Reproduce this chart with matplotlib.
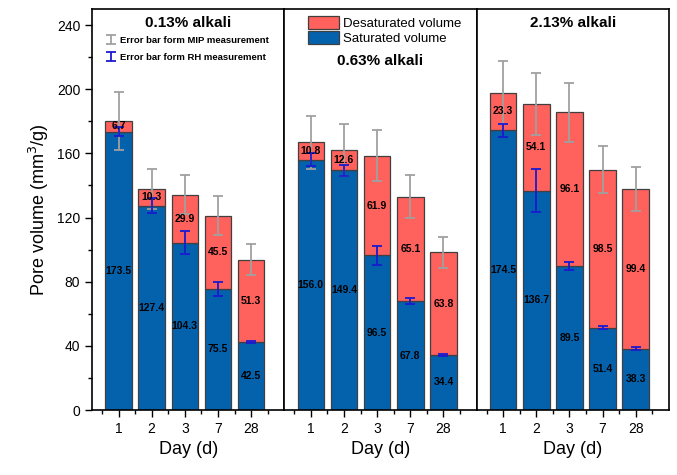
import matplotlib.pyplot as plt
import numpy as np

plt.rcParams['font.family'] = ['Liberation Sans', 'DejaVu Sans']

days = ['1', '2', '3', '7', '28']
titles = ['0.13% alkali', '0.63% alkali', '2.13% alkali']

# saturated / desaturated pore volume (mm3/g) per alkali content
sat = [[173.5, 127.4, 104.3, 75.5, 42.5],
       [156.0, 149.4, 96.5, 67.8, 34.4],
       [174.5, 136.7, 89.5, 51.4, 38.3]]
desat = [[6.7, 10.3, 29.9, 45.5, 51.3],
         [10.8, 12.6, 61.9, 65.1, 63.8],
         [23.3, 54.1, 96.1, 98.5, 99.4]]
# error bars: MIP on the total, RH on the saturated part
err_mip = [[18.0, 12.5, 12.3, 12.2, 9.4],
           [16.5, 16.0, 15.9, 13.3, 9.8],
           [19.5, 19.2, 18.3, 14.9, 13.8]]
err_rh = [[2.8, 4.7, 7.3, 4.5, 0.5],
          [4.0, 3.3, 6.0, 2.0, 0.7],
          [4.0, 13.4, 2.5, 1.0, 0.7]]

red = '#FF615C'
blue = '#0462AD'
edge = '#404040'
gray = '#A0A0A0'
eblue = '#1A1ACF'

fig = plt.figure(figsize=(6.77, 4.75), dpi=100)
left, bottom, height = 92 / 677, 1 - 410 / 475, (410 - 9) / 475
w = 192.3 / 677
x = np.arange(1, 6)

axes = []
for i in range(3):
    ax = fig.add_axes([left + i * w, bottom, w, height])
    axes.append(ax)
    s = np.array(sat[i])
    d = np.array(desat[i])
    ax.bar(x, s, 0.8, color=blue, edgecolor=edge, linewidth=0.9, label='Saturated volume', zorder=2)
    ax.bar(x, d, 0.8, bottom=s, color=red, edgecolor=edge, linewidth=0.9, label='Desaturated volume', zorder=2)
    e1 = ax.errorbar(x, s + d, yerr=err_mip[i], fmt='none', ecolor=gray, elinewidth=1.3,
                     capsize=3.5, capthick=1.3, zorder=3, label='Error bar form MIP measurement')
    e2 = ax.errorbar(x, s, yerr=err_rh[i], fmt='none', ecolor=eblue, elinewidth=1.3,
                     capsize=3.5, capthick=1.3, zorder=4, label='Error bar form RH measurement')
    for xi, si, di in zip(x, s, d):
        ax.text(xi, si / 2, f'{si:.1f}', ha='center', va='center', fontsize=7.5, fontweight='bold', zorder=5)
        ax.text(xi, si + di / 2, f'{di:.1f}', ha='center', va='center', fontsize=7.5, fontweight='bold', zorder=5)

    ax.set_xlim(0.2, 6.0)
    ax.set_ylim(0, 250)
    ax.set_xticks(x)
    ax.set_xticklabels(days, fontsize=10)
    ax.set_xticks(np.arange(0.5, 6.0, 1), minor=True)
    ax.tick_params(axis='x', which='major', direction='out', length=5, width=1)
    ax.tick_params(axis='x', which='minor', direction='out', length=3, width=1)
    ax.set_xlabel('Day (d)', fontsize=13)
    for sp in ax.spines.values():
        sp.set_linewidth(1.2)
    if i == 0:
        ax.set_yticks(np.arange(0, 241, 40))
        ax.set_yticks(np.arange(20, 241, 40), minor=True)
        ax.tick_params(axis='y', which='major', direction='out', length=5, width=1, labelsize=10)
        ax.tick_params(axis='y', which='minor', direction='out', length=3, width=1)
        ax.set_ylabel('Pore volume (mm$^3$/g)', fontsize=13)
        ax.text(0.5, 0.965, titles[i], transform=ax.transAxes, ha='center', va='center',
                fontsize=11, fontweight='bold')
        ax.legend(handles=[e1, e2], loc='upper center', bbox_to_anchor=(0.5, 0.945), frameon=False,
                  prop={'size': 6.8, 'weight': 'bold'}, handlelength=0.8, handletextpad=0.6,
                  labelspacing=0.85, borderpad=0)
    else:
        ax.set_yticks([])
        ax.tick_params(axis='y', which='both', left=False)
    if i == 1:
        h, l = ax.get_legend_handles_labels()
        ax.legend([h[1], h[0]], [l[1], l[0]], loc='upper left', bbox_to_anchor=(0.09, 1.0),
                  frameon=False, fontsize=9.5, handlelength=2.3, handleheight=1.15,
                  handletextpad=0.3, labelspacing=0.1, borderpad=0)
        ax.text(0.5, 0.87, titles[i], transform=ax.transAxes, ha='center', va='center',
                fontsize=11, fontweight='bold')
    if i == 2:
        ax.text(0.5, 0.965, titles[i], transform=ax.transAxes, ha='center', va='center',
                fontsize=11, fontweight='bold')

fig.savefig('out.png', dpi=100)
